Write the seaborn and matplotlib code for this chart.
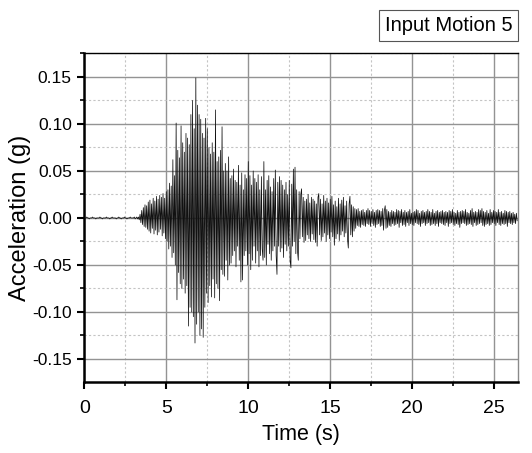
import numpy as np
import pandas as pd
import matplotlib
matplotlib.use("Agg")
import matplotlib.pyplot as plt
from matplotlib.ticker import MultipleLocator, FormatStrFormatter
import seaborn as sns

# Ground-motion record: acceleration samples in milli-g, one row per second
DT = 0.05  # sampling interval (s)
acc_mg = [
    # 0-1 s
    0, 0, 0, 1, 0, 0, -1, 0, 0, 0, 1, 0, 0, 0, -1, 0, 0, 0, 0, 1,
    # 1-2 s
    0, 0, -1, 0, 0, 0, 0, 1, 0, 0, 0, -1, 0, 0, 1, 0, 0, 0, 0, -1,
    # 2-3 s
    0, 0, 1, 0, 0, -1, 0, 0, 0, 1, 0, 0, -1, 0, 0, 0, 1, 0, 0, 0,
    # 3-4 s
    0, 1, -1, 0, 1, -1, 1, -2, 4, -5, 8, -7, 11, -9, 14, -10, 13, -12, 17, -14,
    # 4-5 s
    19, -16, 15, -11, 21, -17, 18, -13, 23, -18, 20, -15, 24, -12, 22, -19, 26, -16, 21, -22,
    # 5-6 s
    28, -25, 30, -33, 37, -30, 34, -42, 62, -37, 45, -50, 101, -87, 72, -58, 64, -70, 98, -75,
    # 6-7 s
    80, -65, 70, -80, 90, -72, 85, -115, 78, -95, 110, -100, 125, -105, 95, -133, 149, -113, 120, -100,
    # 7-8 s
    110, -125, 105, -118, 90, -127, 85, -95, 106, -80, 95, -90, 75, -72, 68, -84, 80, -65, 70, -85,
    # 8-9 s
    115, -70, 60, -75, 65, -88, 72, -55, 97, -60, 50, -62, 58, -45, 50, -66, 65, -50, 42, -48,
    # 9-10 s
    45, -40, 52, -35, 40, -52, 38, -30, 56, -45, 35, -68, 48, -66, 30, -40, 46, -35, 42, -50,
    # 10-11 s
    60, -38, 45, -55, 35, -45, 50, -30, 42, -48, 38, -35, 46, -52, 30, -40, 44, -33, -45, 60,
    # 11-12 s
    -42, 30, -50, 40, -28, 45, -38, 33, -45, 28, -35, 42, -30, 51, -40, -60, 38, -30, 44, -36,
    # 12-13 s
    40, -32, 35, -42, 30, -28, 38, -35, 25, -30, 40, -45, -53, 36, -30, 52, -25, 54, -38, 30,
    # 13-14 s
    -35, -45, 28, -22, 25, 31, -20, 22, -26, 18, -24, 20, -18, 25, -22, 16, -25, 22, -17, 20,
    # 14-15 s
    -23, 18, -26, 15, -30, 22, 26, -18, 20, -24, 15, -20, 24, -16, 18, -25, 21, -18, 16, -22,
    # 15-16 s
    20, -15, 23, -20, 14, -29, 18, -22, 12, -17, 21, -24, 15, -18, 19, -14, 22, -20, 13, -16,
    # 16-17 s
    18, -22, -32, 15, 23, -18, 14, -20, 12, -14, 10, -11, 9, -8, 10, -9, 7, -10, 8, -7,
    # 17-18 s
    9, -8, 6, -9, 8, -6, 10, -7, 8, -9, 7, -6, 9, -8, 6, -10, 8, -7, 9, -6,
    # 18-19 s
    8, -9, 7, -8, 10, -13, 8, 13, -11, 9, -10, 7, -8, 6, -9, 8, -6, 7, -8, 6,
    # 19-20 s
    -7, 9, -6, 8, -10, 7, -5, 9, -8, 6, -7, 8, -9, 6, -5, 7, -8, 9, -6, 5,
    # 20-21 s
    -7, 6, -8, 7, -5, 9, -6, 8, -7, 5, -9, 7, -6, 8, -5, 6, -8, 7, -6, 9,
    # 21-22 s
    -5, 7, -8, 6, -7, 9, -6, 5, -8, 7, -6, 8, -9, 6, -5, 7, -6, 8, -7, 6,
    # 22-23 s
    -8, 7, -5, 6, -9, 8, -6, 7, -5, 9, -7, 6, -8, 5, -6, 8, -7, 6, -10, 7,
    # 23-24 s
    -6, 8, -5, 7, -6, 9, -8, 6, -7, 5, -6, 8, -7, 10, -9, 6, -5, 7, -8, 6,
    # 24-25 s
    -7, 9, -6, 8, -5, 10, -8, 7, -9, 6, -7, 8, -6, 5, -8, 9, -7, 6, -5, 8,
    # 25-26 s
    -6, 7, -8, 6, -5, 9, -7, 6, -8, 7, -6, 5, -7, 8, -6, 7, -9, 6, -5, 7,
    # 26-26.4 s
    -6, 5, -7, 6, -5, 4, -6, 5, -3,
]

legend_text = "Input Motion 5"
x_label = "Time (s)"
y_label = "Acceleration (g)"

time_s = np.arange(len(acc_mg)) * DT
acc_g = np.array(acc_mg) / 1000.0
df = pd.DataFrame({"time": time_s, "acc": acc_g})

sns.set_style("white")
plt.rcParams["font.family"] = ["Liberation Sans", "DejaVu Sans"]
plt.rcParams["axes.unicode_minus"] = False
for key in ("text.color", "axes.labelcolor", "xtick.color", "ytick.color"):
    plt.rcParams[key] = "black"

fig = plt.figure(figsize=(5.32, 4.53), dpi=100)
ax = fig.add_axes([0.1585, 0.1567, 0.8152, 0.7263])

sns.lineplot(data=df, x="time", y="acc", ax=ax, color="#111111",
             linewidth=0.55, estimator=None, sort=False, zorder=3)

ax.set_xlim(0, 26.45)
ax.set_ylim(-0.1745, 0.1755)
ax.xaxis.set_major_locator(MultipleLocator(5))
ax.xaxis.set_minor_locator(MultipleLocator(2.5))
ax.yaxis.set_major_locator(MultipleLocator(0.05))
ax.yaxis.set_minor_locator(MultipleLocator(0.025))
ax.yaxis.set_major_formatter(FormatStrFormatter("%.2f"))

ax.grid(True, which="major", color="#939393", linewidth=1.0, linestyle="-", zorder=0)
ax.grid(True, which="minor", color="#c4c4c4", linewidth=0.8, linestyle=(0, (2, 2)), zorder=0)
ax.set_axisbelow(True)

for side in ("left", "bottom"):
    ax.spines[side].set_color("black")
    ax.spines[side].set_linewidth(1.8)
ax.spines["top"].set_color("black")
ax.spines["top"].set_linewidth(1.0)
ax.spines["right"].set_color("#8a8a8a")
ax.spines["right"].set_linewidth(1.0)

ax.tick_params(which="major", direction="out", length=5, width=1.5, color="black",
               labelcolor="black", left=True, bottom=True)
ax.tick_params(which="minor", direction="out", length=3, width=1.2, color="black",
               left=True, bottom=True)
ax.tick_params(axis="y", which="major", labelsize=12.5, pad=4)
ax.tick_params(axis="x", which="major", labelsize=14, pad=8)

ax.set_xlabel(x_label, fontsize=15.5, labelpad=5, color="black")
ax.set_ylabel(y_label, fontsize=17, labelpad=1, color="black")

fig.text(0.843, 0.943, legend_text, ha="center", va="center", fontsize=14.5,
         color="black",
         bbox=dict(boxstyle="square,pad=0.3", facecolor="white",
                   edgecolor="#555555", linewidth=0.8))

fig.savefig("out.png", dpi=100, facecolor="white")
